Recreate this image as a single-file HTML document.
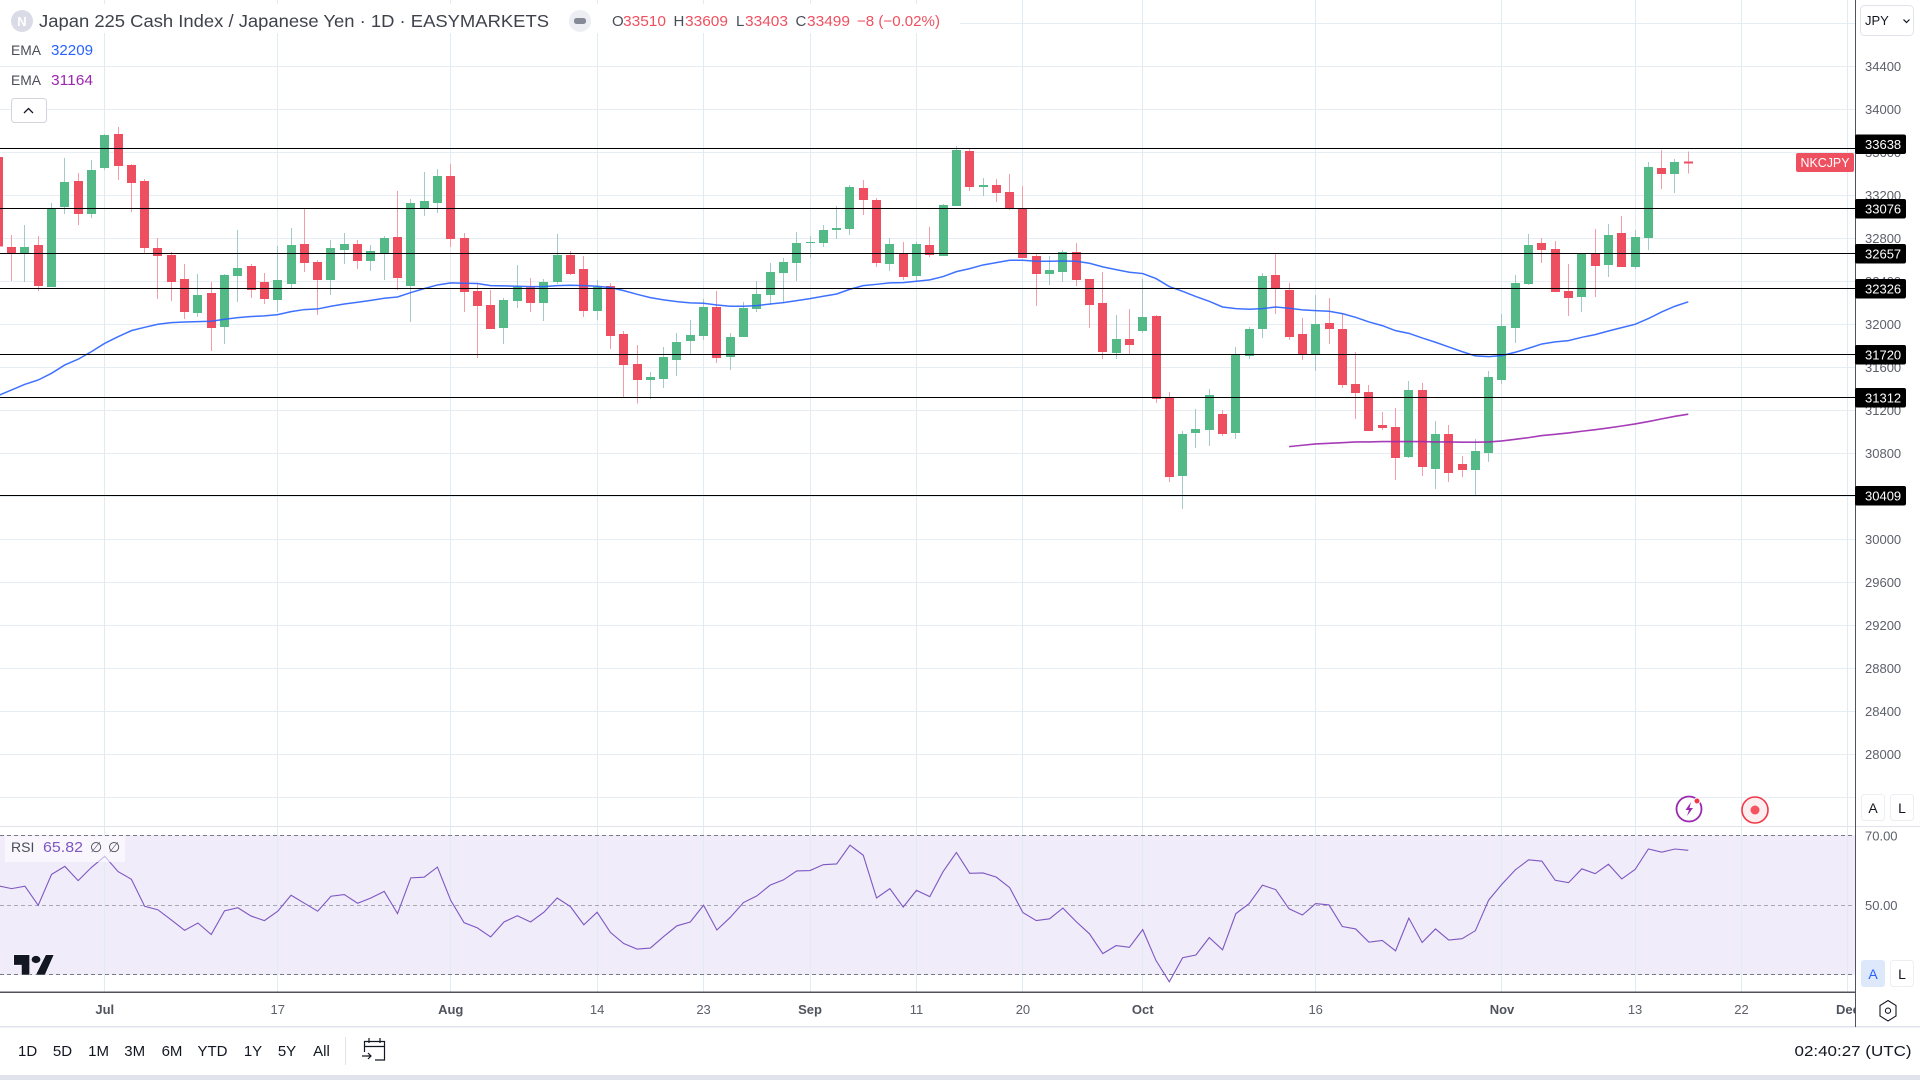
<!DOCTYPE html>
<html lang="en">
<head>
<meta charset="utf-8">
<title>Japan 225 Cash Index / Japanese Yen chart</title>
<style>
html,body{margin:0;padding:0;background:#fff;width:1920px;height:1080px;overflow:hidden}
svg{display:block}
text{font-family:"Liberation Sans",Arial,sans-serif}
</style>
</head>
<body>
<svg id="chart" xmlns="http://www.w3.org/2000/svg" width="1920" height="1080" viewBox="0 0 1920 1080">
  <defs><clipPath id="pane-clip"><rect x="0" y="0" width="1855" height="1080"/></clipPath></defs>
  <rect x="0" y="0" width="1920" height="1080" fill="#ffffff"/>
  <rect x="0" y="835" width="1855" height="140" fill="#f0ecf9"/>
  <g id="grid" shape-rendering="crispEdges"></g>
  <g id="rsi-guides" clip-path="url(#pane-clip)"></g>
  <g id="candles" shape-rendering="crispEdges" clip-path="url(#pane-clip)"></g>
  <path id="ema-blue" fill="none" stroke="#2962ff" stroke-opacity="0.9" stroke-width="1.5"/>
  <path id="ema-purple" fill="none" stroke="#9c27b0" stroke-opacity="0.9" stroke-width="1.6"/>
  <g id="levels" shape-rendering="crispEdges"></g>
  <path id="rsi-line" fill="none" stroke="#7e57c2" stroke-width="1.1"/>

  <!-- header legend -->
  <rect x="0" y="4" width="960" height="29" fill="#ffffff"/>
  <rect x="5" y="37" width="96" height="26" fill="#ffffff"/>
  <rect x="5" y="67" width="96" height="26" fill="#ffffff"/>
  <circle cx="22" cy="21" r="11" fill="#d9dbe6"/>
  <text x="22" y="26" font-size="13" font-weight="bold" fill="#ffffff" text-anchor="middle">N</text>
  <text x="39" y="27" font-size="17.5" fill="#3f424c" textLength="510" lengthAdjust="spacingAndGlyphs">Japan 225 Cash Index / Japanese Yen · 1D · EASYMARKETS</text>
  <circle cx="580" cy="21" r="11" fill="#eceef3"/>
  <rect x="574" y="18" width="12" height="6" rx="2.5" fill="#868a96"/>
  <g font-size="15">
    <text x="612" y="26" fill="#4a4d57">O</text>
    <text x="623" y="26" fill="#ef5060" textLength="43" lengthAdjust="spacingAndGlyphs">33510</text>
    <text x="673.5" y="26" fill="#4a4d57">H</text>
    <text x="685" y="26" fill="#ef5060" textLength="43" lengthAdjust="spacingAndGlyphs">33609</text>
    <text x="736" y="26" fill="#4a4d57">L</text>
    <text x="745" y="26" fill="#ef5060" textLength="43" lengthAdjust="spacingAndGlyphs">33403</text>
    <text x="795.5" y="26" fill="#4a4d57">C</text>
    <text x="807" y="26" fill="#ef5060" textLength="43" lengthAdjust="spacingAndGlyphs">33499</text>
    <text x="857" y="26" fill="#ef5060" textLength="83" lengthAdjust="spacingAndGlyphs">−8 (−0.02%)</text>
  </g>
  <text x="11" y="55" font-size="14" fill="#4a4d57" textLength="30" lengthAdjust="spacingAndGlyphs">EMA</text>
  <text x="51" y="55" font-size="15" fill="#2962ff" textLength="42" lengthAdjust="spacingAndGlyphs">32209</text>
  <text x="11" y="85" font-size="14" fill="#4a4d57" textLength="30" lengthAdjust="spacingAndGlyphs">EMA</text>
  <text x="51" y="85" font-size="15" fill="#9c27b0" textLength="42" lengthAdjust="spacingAndGlyphs">31164</text>
  <g>
    <rect x="11.5" y="98.5" width="35" height="24" rx="3" fill="#ffffff" stroke="#d1d4dc"/>
    <path d="M24 113 L28.5 108.5 L33 113" fill="none" stroke="#131722" stroke-width="1.3"/>
  </g>

  <!-- RSI legend -->
  <rect x="5" y="836" width="120" height="26" fill="#ffffff" fill-opacity="0.6"/>
  <text x="11" y="852" font-size="14" fill="#4a4d57">RSI</text>
  <text x="43" y="852" font-size="15" fill="#7e57c2" textLength="40" lengthAdjust="spacingAndGlyphs">65.82</text>
  <text x="90" y="852" font-size="14" fill="#4a4d57">∅</text>
  <text x="108" y="852" font-size="14" fill="#4a4d57">∅</text>

  <!-- logo -->
  <g transform="translate(14 955) scale(1.1 0.9)">
    <path d="M14 22H7V11H0V0h14v22zM28 22h-8L29 0h7L28 22z" fill="#131722" stroke="#ffffff" stroke-width="1.2" paint-order="stroke"/>
    <circle cx="20" cy="5" r="4" fill="#131722"/>
  </g>

  <!-- pane boundaries -->
  <rect x="0" y="826" width="1920" height="1" fill="#e0e3eb"/>
  <rect x="0" y="991.5" width="1855" height="1.5" fill="#50535e"/>
  <rect x="0" y="1026" width="1920" height="1.5" fill="#e0e3eb"/>
  <rect x="1855" y="0" width="1" height="1027" fill="#50535e"/>

  <g id="price-axis"></g>
  <g id="rsi-axis"></g>
  <g id="level-labels"></g>
  <g id="time-axis" clip-path="url(#pane-clip)"></g>

  <!-- symbol tag -->
  <rect x="1796" y="153" width="58" height="19" rx="2" fill="#ef5060"/>
  <text x="1825" y="167" font-size="13" fill="#ffffff" text-anchor="middle" textLength="49" lengthAdjust="spacingAndGlyphs">NKCJPY</text>

  <!-- currency -->
  <g>
    <rect x="1860.5" y="5.5" width="53" height="30" rx="4" fill="#ffffff" stroke="#e0e3eb"/>
    <text x="1865" y="25" font-size="13" fill="#131722">JPY</text>
    <path d="M1903.5 19.5 L1906.5 22.5 L1909.5 19.5" fill="none" stroke="#131722" stroke-width="1.2"/>
  </g>

  <!-- scale buttons -->
  <g>
    <rect x="1861.5" y="794.5" width="23" height="26" rx="3" fill="#ffffff" stroke="#eceef2"/>
    <text x="1873" y="813" font-size="14" fill="#131722" text-anchor="middle">A</text>
  </g>
  <g>
    <rect x="1890.5" y="794.5" width="23" height="26" rx="3" fill="#ffffff" stroke="#eceef2"/>
    <text x="1902" y="813" font-size="14" fill="#131722" text-anchor="middle">L</text>
  </g>
  <g>
    <rect x="1861" y="960" width="24" height="27" rx="3" fill="#dde9fb"/>
    <text x="1873" y="979" font-size="14" fill="#2962ff" text-anchor="middle">A</text>
  </g>
  <g>
    <rect x="1890.5" y="960.5" width="23" height="26" rx="3" fill="#ffffff" stroke="#eceef2"/>
    <text x="1902" y="979" font-size="14" fill="#131722" text-anchor="middle">L</text>
  </g>

  <!-- floating icons -->
  <g>
    <circle cx="1689" cy="809" r="12.5" fill="#ffffff" stroke="#9c27b0" stroke-width="1.8"/>
    <path d="M1691 802 L1685.5 810 L1689 810 L1687 816 L1693 808 L1689.5 808 Z" fill="#9c27b0"/>
    <circle cx="1697" cy="801" r="3" fill="#f23645" stroke="#ffffff"/>
  </g>
  <g>
    <circle cx="1755" cy="810" r="13" fill="#fbeef0" stroke="#f23645" stroke-width="1.6"/>
    <circle cx="1755" cy="810" r="4.5" fill="#f7525f"/>
  </g>
  <g>
    <path d="M1888 1000.5 L1896 1005.5 L1896 1016 L1888 1021 L1880 1016 L1880 1005.5 Z" fill="none" stroke="#131722" stroke-width="1.1"/>
    <circle cx="1888" cy="1010.7" r="2.6" fill="none" stroke="#131722" stroke-width="1.1"/>
  </g>

  <!-- bottom toolbar -->
  <g font-size="15" fill="#131722" text-anchor="middle">
    <text x="27.6" y="1056">1D</text>
    <text x="62.5" y="1056">5D</text>
    <text x="98.6" y="1056">1M</text>
    <text x="134.7" y="1056">3M</text>
    <text x="172" y="1056">6M</text>
    <text x="212.5" y="1056">YTD</text>
    <text x="253" y="1056">1Y</text>
    <text x="287" y="1056">5Y</text>
    <text x="321.5" y="1056">All</text>
  </g>
  <rect x="345" y="1037" width="1" height="28" fill="#e0e3eb"/>
  <g fill="none" stroke="#131722" stroke-width="1.2">
    <path d="M364.5 1052 V1041.5 H384.5 V1060 H375 M364.5 1046.5 H384.5 M369 1038 V1043 M380 1038 V1043"/>
    <path d="M362 1056 H371 M368 1053 L371 1056 L368 1059"/>
  </g>
  <text x="1794.5" y="1056" font-size="15" fill="#131722" textLength="117" lengthAdjust="spacingAndGlyphs">02:40:27 (UTC)</text>
  <rect x="0" y="1075" width="1920" height="5" fill="#e0e3eb"/>
</svg>

<script>
var opens = [33557,32720,32661,32738,32347,33092,33334,33027,33454,33771,
33482,33334,32710,32645,32422,32106,32292,31975,32450,32543,
32394,32227,32375,32748,32580,32413,32692,32748,32589,32654,
32813,32357,33082,33129,33380,32803,32310,32180,31966,32217,
32341,32199,32394,32645,32515,32124,32357,31910,31631,31482,
31492,31668,31845,31892,32161,31696,31882,32143,32273,32478,
32571,32757,32757,32878,32887,33268,33157,32561,32654,32450,
32738,32636,33101,33613,33278,33296,33231,33082,32636,32468,
32487,32673,32422,32199,31734,31864,31938,32078,31315,30589,
30989,31017,31166,30989,31706,31957,32459,32320,31910,31724,
32013,31957,31445,31371,31064,31045,30766,31389,30654,30980,
30701,30645,30803,31482,31966,32375,32757,32701,32310,32254,
32658,32552,32850,32534,32803,33454,33399,33516];
var highs = [33557,32831,32924,32822,33129,33548,33408,33529,33771,33836,
33492,33352,32803,32673,32561,32468,32394,32468,32878,32561,
32478,32729,32896,33073,32599,32785,32850,32785,32738,32822,
33241,33166,33417,33445,33492,32850,32385,32320,32245,32552,
32431,32422,32841,32682,32636,32413,32385,31938,31808,31557,
31789,31920,32041,32236,32310,31920,32208,32403,32571,32617,
32859,32822,32924,33101,33296,33343,33175,32803,32766,32766,
32906,33120,33659,33641,33361,33352,33399,33287,32654,32636,
32692,32757,32422,32487,32087,32143,32422,32087,31371,31008,
31213,31399,31203,31789,31975,32478,32664,32385,32059,32273,
32245,32106,31743,31436,31185,31222,31473,31454,31101,31064,
30775,30934,31566,32096,32459,32841,32803,32775,32561,32661,
32887,32934,33008,32878,33510,33622,33538,33609];
var lows = [32723,32403,32394,32310,32347,33027,32924,32989,33436,33343,
33045,32661,32236,32217,32050,32068,31752,31817,32208,32245,
32189,32115,32338,32487,32087,32273,32561,32515,32496,32413,
32320,32022,33008,33036,32720,32115,31687,31957,31817,32152,
32115,32031,32375,32459,32068,32041,31771,31315,31262,31303,
31408,31520,31715,31854,31641,31575,31882,32115,32180,32199,
32403,32617,32720,32794,32831,33017,32534,32496,32413,32394,
32627,32636,33101,33241,33194,33138,33064,32617,32171,32366,
32394,32357,31966,31678,31678,31724,31920,31268,30534,30282,
30850,30868,30961,30934,31678,31873,32096,31854,31668,31566,
31817,31408,31120,31008,31017,30552,30757,30589,30468,30534,
30580,30403,30720,31445,31827,32366,32571,32301,32078,32115,
32254,32441,32534,32515,32692,33259,33222,33403];
var closes = [32723,32654,32720,32357,33082,33324,33027,33436,33761,33473,
33315,32710,32636,32394,32115,32273,31966,32459,32524,32320,
32236,32413,32738,32571,32413,32710,32748,32589,32682,32803,
32431,33129,33148,33380,32794,32301,32171,31957,32227,32347,
32199,32394,32645,32468,32124,32347,31892,31622,31482,31510,
31696,31836,31901,32161,31687,31882,32152,32282,32487,32580,
32757,32766,32878,32896,33278,33157,32571,32748,32441,32748,
32645,33110,33622,33278,33296,33222,33073,32617,32468,32506,
32673,32413,32180,31743,31864,31808,32068,31306,30580,30980,
31027,31343,30980,31724,31957,32450,32329,31882,31724,32003,
31957,31436,31361,31008,31036,30757,31389,30673,30980,30617,
30645,30822,31510,31985,32385,32738,32692,32301,32245,32658,
32543,32831,32534,32813,33464,33399,33510,33497];
var emaFast = [31337,31389,31442,31482,31544,31622,31675,31746,31823,31885,
31941,31972,32000,32016,32022,32025,32028,32047,32062,32072,
32078,32090,32118,32137,32143,32168,32189,32205,32223,32242,
32254,32295,32332,32366,32385,32382,32379,32360,32357,32354,
32351,32351,32360,32363,32360,32354,32341,32313,32279,32248,
32227,32211,32199,32196,32180,32168,32168,32174,32189,32202,
32220,32239,32261,32282,32326,32360,32372,32385,32388,32400,
32413,32444,32490,32518,32552,32574,32596,32596,32586,32586,
32589,32586,32568,32534,32509,32484,32472,32425,32351,32307,
32258,32214,32161,32146,32140,32146,32161,32149,32134,32127,
32121,32099,32065,32022,31988,31941,31916,31873,31833,31789,
31746,31706,31699,31709,31740,31777,31817,31836,31848,31879,
31904,31938,31969,32000,32053,32115,32168,32209];
var emaSlowStartBar = 97;
var emaSlow = [30862,30875,30887,30893,30899,30906,30906,30909,30909,30909,
30909,30906,30906,30903,30903,30906,30915,30930,30946,30965,
30977,30989,31005,31020,31036,31054,31073,31095,31120,31144,31164];
var rsiValues = [55.6,54.8,55.5,50.0,58.9,61.2,57.1,60.9,64.1,59.7,
57.5,49.7,48.7,45.8,42.8,44.9,41.6,48.4,49.3,46.9,
45.6,48.3,52.9,50.6,48.3,52.6,53.1,50.6,52.1,54.0,
47.6,57.9,58.1,61.0,51.4,45.0,43.5,40.9,45.2,47.0,
45.2,48.0,52.1,49.6,44.4,48.0,42.2,39.0,37.4,37.7,
41.0,44.1,45.2,50.0,42.9,46.5,50.8,52.7,55.8,57.3,
59.9,60.0,61.7,61.9,67.3,64.4,52.1,54.8,49.5,54.3,
52.5,59.7,65.2,59.2,59.3,58.1,55.1,47.9,45.6,46.1,
49.2,45.3,41.8,36.1,38.4,37.9,43.0,34.1,28.0,34.9,
35.7,40.7,37.2,47.6,50.5,55.8,54.5,49.0,47.2,50.5,
50.1,43.9,43.2,39.4,39.9,36.9,46.3,39.3,43.2,40.0,
40.4,42.7,51.5,56.1,60.2,63.1,62.7,57.2,56.5,60.5,
59.1,61.8,57.6,60.3,66.2,65.3,66.2,65.82];
var levelValues = [33638,33076,32657,32335,31720,31321,30409];
var levelLabels = ["33638","33076","32657","32326","31720","31312","30409"];
var priceTicks = [34800,34400,34000,33600,33200,32800,32400,32000,31600,31200,30800,30400,30000,29600,29200,28800,28400,28000,27600];
var priceTickLabels = ["","34400","34000","33600","33200","32800","32400","32000","31600","31200","30800","30400","30000","29600","29200","28800","28400","28000",""];
var rsiTicks = [70,50,30];
var rsiTickLabels = ["70.00","50.00",""];
var timeLabels = ["Jul","17","Aug","14","23","Sep","11","20","Oct","16","Nov","13","22","Dec"];
var timeLabelBars = [8,21,34,45,53,61,69,77,86,99,113,123,131,139];
var monthLabels = ["Jul","Aug","Sep","Oct","Nov","Dec"];

function xOf(i){ return -1.7 + 13.307 * i; }
function priceY(p){ return 324.3 - (p - 32000) * 0.1075; }
function rsiY(r){ return 905.3 - (r - 50) * 3.475; }

var NS = 'http://www.w3.org/2000/svg';
function make(tag, parentId, attrs, text){
  var el = document.createElementNS(NS, tag);
  for (var k in attrs) el.setAttribute(k, attrs[k]);
  if (text !== undefined) el.textContent = text;
  document.getElementById(parentId).appendChild(el);
  return el;
}

/* grid */
priceTicks.forEach(function(p){
  var g = make('rect','grid',{x:0,y:Math.floor(priceY(p)),width:1855,height:1,fill:'#e6eef3'});
  
  
});
timeLabelBars.forEach(function(b){
  var g = make('rect','grid',{x:Math.floor(xOf(b)),y:0,width:1,height:992,fill:'#e1ecf2'});
  
  
});

/* RSI guides */
rsiTicks.forEach(function(r){
  var y = Math.floor(rsiY(r)) + 0.5;
  var l = make('line','rsi-guides',{x1:0,x2:1855,y1:y,y2:y,stroke:'#787b86','stroke-opacity':r === 50 ? 0.6 : 1,'stroke-width':1,'stroke-dasharray':'4 3'});
  
  
});

/* candles */
opens.forEach(function(o,i){
  var c = closes[i], up = c >= o;
  var left = Math.round(xOf(i) - 4.5);
  var w = make('rect','candles',{x:left+4,y:priceY(highs[i]),width:1,height:Math.max(1,priceY(lows[i])-priceY(highs[i])),fill:up?'#a3c9c9':'#f59cab'});
  
  
  var top = Math.max(o,c), bot = Math.min(o,c);
  var b = make('rect','candles',{x:left,y:priceY(top),width:9,height:Math.max(1,priceY(bot)-priceY(top)),fill:up?'#53b987':'#ee4f60'});
  
  
});

/* lines */
document.getElementById('ema-blue').setAttribute('d', emaFast.map(function(v,i){
  return (i?'L':'M') + xOf(i).toFixed(2) + ' ' + priceY(v).toFixed(2);
}).join(' '));
document.getElementById('ema-purple').setAttribute('d', emaSlow.map(function(v,i){
  return (i?'L':'M') + xOf(i + emaSlowStartBar).toFixed(2) + ' ' + priceY(v).toFixed(2);
}).join(' '));
document.getElementById('rsi-line').setAttribute('d', rsiValues.map(function(v,i){
  return (i?'L':'M') + xOf(i).toFixed(2) + ' ' + rsiY(v).toFixed(2);
}).join(' '));

/* price axis */
priceTicks.forEach(function(p,i){
  if (!priceTickLabels[i]) return;
  var t = make('text','price-axis',{x:1865,y:priceY(p)+4.6,'font-size':13,fill:'#5d606b'},priceTickLabels[i]);
  
  
});
rsiTicks.forEach(function(r,i){
  if (!rsiTickLabels[i]) return;
  var t = make('text','rsi-axis',{x:1865,y:rsiY(r)+4.6,'font-size':13,fill:'#5d606b'},rsiTickLabels[i]);
  
  
});

/* horizontal levels */
levelValues.forEach(function(v,i){
  var y = Math.floor(priceY(v));
  var l = make('rect','levels',{x:0,y:y,width:1855,height:1,fill:'#000000'});
  
  
  var cy = i === 0 ? y - 4 : y + 0.5;
  var box = make('rect','level-labels',{x:1855,y:cy-9.5,width:51,height:19.5,rx:2,fill:'#000000'});
  
  
  var t = make('text','level-labels',{x:1865,y:cy+4.8,'font-size':13,fill:'#ffffff'},levelLabels[i]);
  
  
});

/* time axis */
timeLabels.forEach(function(s,i){
  var isMonth = monthLabels.indexOf(s) >= 0;
  var t = make('text','time-axis',{x:xOf(timeLabelBars[i]),y:1014,'font-size':13,'text-anchor':'middle',fill:isMonth?'#50535e':'#5d606b','font-weight':isMonth?'bold':'normal'},s);
  
  
});
</script>
</body>
</html>
